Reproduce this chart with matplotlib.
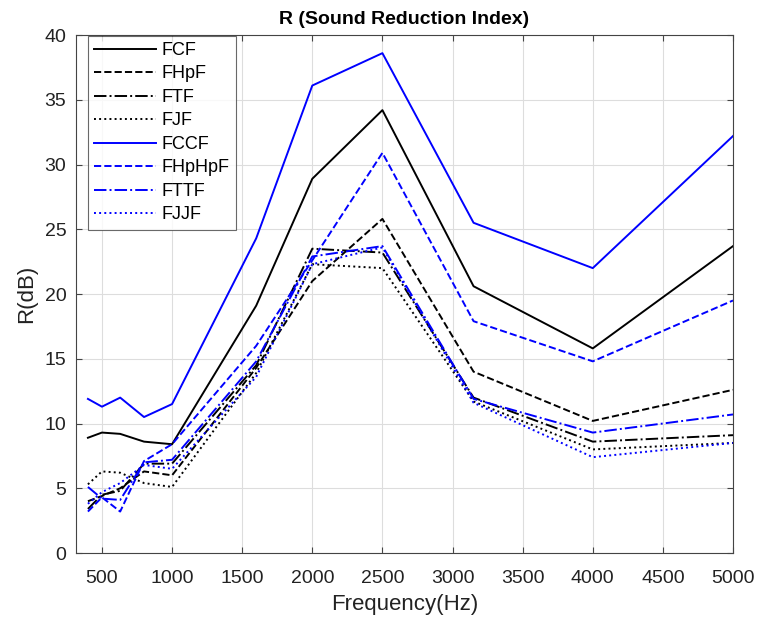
import numpy as np
import matplotlib.pyplot as plt

plt.rcParams["font.family"] = ["Liberation Sans", "DejaVu Sans"]

# third-octave band centres (Hz)
freq = [400, 500, 630, 800, 1000, 1600, 2000, 2500, 3150, 4000, 5000]

# sound reduction index R (dB)
FCF = [8.9, 9.3, 9.2, 8.6, 8.4, 19.1, 28.9, 34.2, 20.6, 15.8, 23.7]
FHpF = [4.0, 4.4, 5.0, 6.3, 6.0, 14.3, 21.0, 25.8, 14.0, 10.2, 12.6]
FTF = [3.4, 4.5, 4.8, 6.9, 6.9, 14.5, 23.5, 23.2, 12.0, 8.6, 9.1]
FJF = [5.3, 6.3, 6.2, 5.4, 5.1, 13.9, 22.3, 22.0, 11.7, 8.0, 8.5]
FCCF = [11.9, 11.3, 12.0, 10.5, 11.5, 24.3, 36.1, 38.6, 25.5, 22.0, 32.2]
FHpHpF = [3.2, 4.3, 3.2, 7.1, 8.4, 16.0, 22.6, 30.9, 17.9, 14.8, 19.5]
FTTF = [5.1, 4.2, 4.1, 7.0, 7.2, 14.8, 22.9, 23.7, 11.9, 9.3, 10.7]
FJJF = [3.8, 4.7, 5.4, 6.8, 6.5, 13.6, 22.3, 23.6, 11.6, 7.4, 8.5]

series = [("FCF", FCF, "k", "-"), ("FHpF", FHpF, "k", "--"),
          ("FTF", FTF, "k", "-."), ("FJF", FJF, "k", ":"),
          ("FCCF", FCCF, "b", "-"), ("FHpHpF", FHpHpF, "b", "--"),
          ("FTTF", FTTF, "b", "-."), ("FJJF", FJJF, "b", ":")]

fig = plt.figure(figsize=(7.57, 6.21), dpi=100)
ax = fig.add_axes([0.1004, 0.1095, 0.8679, 0.8341])

for name, vals, col, ls in series:
    ax.plot(freq, vals, color=col, linestyle=ls, linewidth=1.4, label=name)

ax.set_xlim(315, 5000)
ax.set_ylim(0, 40)
ax.set_xticks(np.arange(500, 5001, 500))
ax.set_yticks(np.arange(0, 41, 5))
ax.grid(True, color="#dddddd", linewidth=0.8)
ax.tick_params(direction="in", top=True, right=True, labelsize=14, length=4,
               color="#444444", labelcolor="#222222")
ax.tick_params(axis="x", pad=12)
ax.tick_params(axis="y", pad=7)
for s in ax.spines.values():
    s.set_color("#444444")

ax.set_xlabel("Frequency(Hz)", fontsize=16, color="#222222", labelpad=5)
ax.set_ylabel("R(dB)", fontsize=16, color="#222222", labelpad=5)
ax.set_title("R (Sound Reduction Index)", fontsize=14, fontweight="bold", pad=8)

leg = ax.legend(loc="upper left", bbox_to_anchor=(0.018, 0.999), fontsize=13,
                frameon=True, fancybox=False, edgecolor="#444444",
                borderaxespad=0, handlelength=3.4, labelspacing=0.36,
                borderpad=0.35, handletextpad=0.35)
leg.get_frame().set_linewidth(0.8)

fig.savefig("out.png", dpi=100)
